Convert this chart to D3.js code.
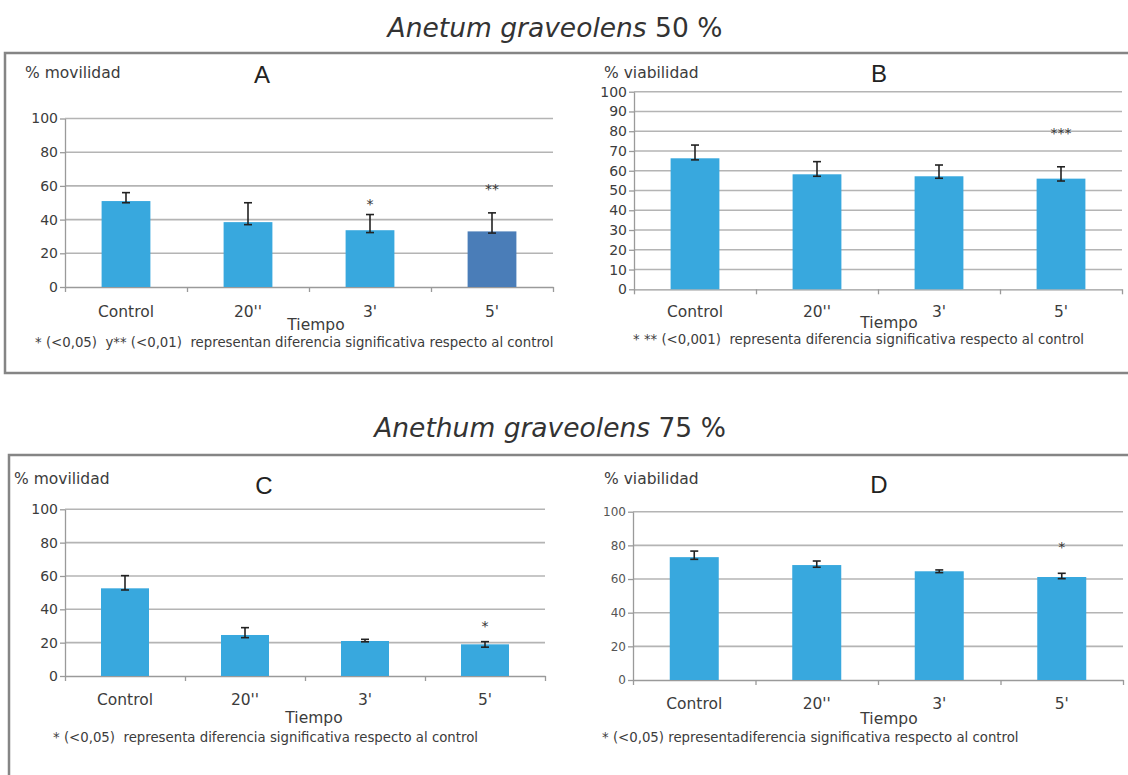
<!DOCTYPE html>
<html>
<head>
<meta charset="utf-8">
<script src="https://cdn.jsdelivr.net/npm/d3@7/dist/d3.min.js"></script>
<style>
  html, body { margin: 0; padding: 0; background: #fff; }
  svg { display: block; font-family: "DejaVu Sans", Verdana, sans-serif; }
  text { fill: #3c3c3c; }
</style>
</head>
<body>
<svg id="chart" width="1128" height="775"></svg>
<script>
// categorias comunes
var categories = ["Control", "20''", "3'", "5'"];

// A: movilidad 50 %
var movilidad50 = [51, 38.5, 33.7, 33];
var movilidad50ErrUp = [5, 11.5, 9.3, 11];
var movilidad50ErrDown = [1, 1.5, 1.4, 1];
var movilidad50Stars = ["", "", "*", "**"];
var movilidad50StarLevel = [0, 0, 51, 60];

// B: viabilidad 50 %
var viabilidad50 = [66.3, 58.2, 57.2, 56];
var viabilidad50ErrUp = [6.7, 6.4, 5.7, 6];
var viabilidad50ErrDown = [0.8, 1, 1, 1.2];
var viabilidad50Stars = ["", "", "", "***"];
var viabilidad50StarLevel = [0, 0, 0, 80.5];

// C: movilidad 75 %
var movilidad75 = [52.6, 24.6, 21, 19];
var movilidad75ErrUp = [7.6, 4.4, 1, 1.6];
var movilidad75ErrDown = [1, 1.6, 0.5, 1.7];
var movilidad75Stars = ["", "", "", "*"];
var movilidad75StarLevel = [0, 0, 0, 32];

// D: viabilidad 75 %
var viabilidad75 = [73, 68.3, 64.6, 61.2];
var viabilidad75ErrUp = [3.6, 2.4, 0.8, 2.2];
var viabilidad75ErrDown = [1.3, 1.3, 0.8, 1];
var viabilidad75Stars = ["", "", "", "*"];
var viabilidad75StarLevel = [0, 0, 0, 81];

var ticks20 = [0, 20, 40, 60, 80, 100];
var ticks10 = [0, 10, 20, 30, 40, 50, 60, 70, 80, 90, 100];

// colores
var barColor = "#38a8de";
var barColorDark = "#4a7db8";
var gridColor = "#b4b4b4";
var axisColor = "#9a9a9a";

var svg = d3.select("#chart");

// marcos
svg.append("rect")
    .attr("x", 5).attr("y", 53)
    .attr("width", 1140).attr("height", 320)
    .attr("fill", "none")
    .attr("stroke", "#858585")
    .attr("stroke-width", 2.5);

svg.append("rect")
    .attr("x", 9).attr("y", 455)
    .attr("width", 1140).attr("height", 340)
    .attr("fill", "none")
    .attr("stroke", "#858585")
    .attr("stroke-width", 2.5);

// titulos
function drawTitle(x, y, italic, rest) {
    var t = svg.append("text")
        .attr("x", x).attr("y", y)
        .attr("text-anchor", "middle")
        .style("font-size", "26.5px")
        .style("fill", "#333");
    t.append("tspan").style("font-style", "italic").text(italic);
    t.append("tspan").text(rest);
}
drawTitle(555, 37, "Anetum graveolens", " 50 %");
drawTitle(550, 437, "Anethum graveolens", " 75 %");

var panels = [
    {
        values: movilidad50, errUp: movilidad50ErrUp, errDown: movilidad50ErrDown,
        stars: movilidad50Stars, starLevel: movilidad50StarLevel,
        dark: [false, false, false, true],
        ticks: ticks20,
        left: 65, right: 553, y0: 287, y100: 118.5,
        yLabel: "% movilidad", yLabelPos: [25, 73],
        letter: "A", letterPos: [262, 74],
        catPad: 19, tiempoPos: [316, 325],
        note: "* (<0,05)  y** (<0,01)  representan diferencia significativa respecto al control",
        notePos: [35, 342], tickFont: 14, tickColor: "#3c3c3c"
    },
    {
        values: viabilidad50, errUp: viabilidad50ErrUp, errDown: viabilidad50ErrDown,
        stars: viabilidad50Stars, starLevel: viabilidad50StarLevel,
        dark: [false, false, false, false],
        ticks: ticks10,
        left: 634, right: 1122, y0: 289.3, y100: 91.7,
        yLabel: "% viabilidad", yLabelPos: [604, 73],
        letter: "B", letterPos: [879, 73],
        catPad: 17, tiempoPos: [889, 323],
        note: "* ** (<0,001)  representa diferencia significativa respecto al control",
        notePos: [633, 339], tickFont: 14, tickColor: "#3c3c3c"
    },
    {
        values: movilidad75, errUp: movilidad75ErrUp, errDown: movilidad75ErrDown,
        stars: movilidad75Stars, starLevel: movilidad75StarLevel,
        dark: [false, false, false, false],
        ticks: ticks20,
        left: 65, right: 545, y0: 676, y100: 509.3,
        yLabel: "% movilidad", yLabelPos: [14, 479],
        letter: "C", letterPos: [264, 485],
        catPad: 18, tiempoPos: [314, 718],
        note: "* (<0,05)  representa diferencia significativa respecto al control",
        notePos: [53, 737], tickFont: 14, tickColor: "#3c3c3c"
    },
    {
        values: viabilidad75, errUp: viabilidad75ErrUp, errDown: viabilidad75ErrDown,
        stars: viabilidad75Stars, starLevel: viabilidad75StarLevel,
        dark: [false, false, false, false],
        ticks: ticks20,
        left: 633, right: 1123, y0: 680, y100: 511.7,
        yLabel: "% viabilidad", yLabelPos: [604, 479],
        letter: "D", letterPos: [879, 484],
        catPad: 18, tiempoPos: [889, 719],
        note: "* (<0,05) representadiferencia significativa respecto al control",
        notePos: [602, 737], tickFont: 12, tickColor: "#555"
    }
];

panels.forEach(drawPanel);

function drawPanel(p) {
    var g = svg.append("g");

    var x = d3.scaleBand()
        .domain(categories)
        .range([p.left, p.right])
        .paddingInner(0.6)
        .paddingOuter(0.3);

    var y = d3.scaleLinear()
        .domain([0, 100])
        .range([p.y0, p.y100]);

    // lineas de division
    g.append("g")
        .selectAll("line")
        .data(p.ticks.filter(function (d) { return d > 0; }))
        .enter()
        .append("line")
        .attr("x1", p.left).attr("x2", p.right)
        .attr("y1", function (d) { return y(d); })
        .attr("y2", function (d) { return y(d); })
        .attr("stroke", gridColor)
        .attr("stroke-width", 1.6);

    // eje Y
    var yAxis = g.append("g")
        .attr("transform", "translate(" + p.left + ",0)")
        .call(d3.axisLeft(y).tickValues(p.ticks).tickSize(5).tickPadding(2).tickSizeOuter(0));
    yAxis.selectAll("path, line").attr("stroke", axisColor).attr("stroke-width", 1.3);
    yAxis.selectAll("text")
        .style("font-size", p.tickFont + "px")
        .style("font-family", "DejaVu Sans, Verdana, sans-serif")
        .style("fill", p.tickColor);

    // eje X: marcas entre categorias
    var xb = d3.scaleLinear().domain([0, categories.length]).range([p.left, p.right]);
    var xAxis = g.append("g")
        .attr("transform", "translate(0," + p.y0 + ")")
        .call(d3.axisBottom(xb).ticks(categories.length).tickSize(5).tickFormat("").tickSizeOuter(0));
    xAxis.selectAll("path, line").attr("stroke", axisColor).attr("stroke-width", 1.3);

    // etiquetas de categorias
    var xLab = g.append("g")
        .attr("transform", "translate(0," + p.y0 + ")")
        .call(d3.axisBottom(x).tickSize(0).tickPadding(p.catPad));
    xLab.select(".domain").remove();
    xLab.selectAll("text")
        .style("font-size", "15.5px")
        .style("font-family", "DejaVu Sans, Verdana, sans-serif")
        .style("fill", "#3c3c3c");

    var rows = categories.map(function (c, i) {
        return {
            cat: c, v: p.values[i], up: p.errUp[i], down: p.errDown[i],
            star: p.stars[i], starLevel: p.starLevel[i], dark: p.dark[i]
        };
    });

    // barras
    g.append("g")
        .selectAll("rect")
        .data(rows)
        .enter()
        .append("rect")
        .attr("x", function (d) { return x(d.cat); })
        .attr("width", x.bandwidth())
        .attr("y", function (d) { return y(d.v); })
        .attr("height", function (d) { return y(0) - y(d.v); })
        .attr("fill", function (d) { return d.dark ? barColorDark : barColor; });

    // barras de error
    var cap = 4;
    var eg = g.append("g").attr("stroke", "#222").attr("stroke-width", 1.6);
    rows.forEach(function (d) {
        var cx = x(d.cat) + x.bandwidth() / 2;
        var top = y(d.v + d.up), bot = y(d.v - d.down);
        eg.append("line").attr("x1", cx).attr("x2", cx).attr("y1", top).attr("y2", bot);
        eg.append("line").attr("x1", cx - cap).attr("x2", cx + cap).attr("y1", top).attr("y2", top);
        eg.append("line").attr("x1", cx - cap).attr("x2", cx + cap).attr("y1", bot).attr("y2", bot);
    });

    // asteriscos
    g.append("g")
        .selectAll("text")
        .data(rows.filter(function (d) { return d.star; }))
        .enter()
        .append("text")
        .attr("x", function (d) { return x(d.cat) + x.bandwidth() / 2; })
        .attr("y", function (d) { return y(d.starLevel) + 8; })
        .attr("text-anchor", "middle")
        .style("font-size", "14px")
        .style("fill", "#333")
        .text(function (d) { return d.star; });

    // textos del panel
    g.append("text")
        .attr("x", p.yLabelPos[0]).attr("y", p.yLabelPos[1])
        .attr("dominant-baseline", "central")
        .style("font-size", "15.5px")
        .text(p.yLabel);

    g.append("text")
        .attr("x", p.letterPos[0]).attr("y", p.letterPos[1])
        .attr("text-anchor", "middle")
        .attr("dominant-baseline", "central")
        .style("font-family", "Liberation Sans, Arial, sans-serif")
        .style("font-size", "24px")
        .style("fill", "#222")
        .text(p.letter);

    g.append("text")
        .attr("x", p.tiempoPos[0]).attr("y", p.tiempoPos[1])
        .attr("text-anchor", "middle")
        .attr("dominant-baseline", "central")
        .style("font-size", "15.5px")
        .text("Tiempo");

    g.append("text")
        .attr("x", p.notePos[0]).attr("y", p.notePos[1])
        .attr("dominant-baseline", "central")
        .attr("xml:space", "preserve")
        .style("white-space", "pre")
        .style("font-size", "13.3px")
        .text(p.note);
}
</script>
</body>
</html>
